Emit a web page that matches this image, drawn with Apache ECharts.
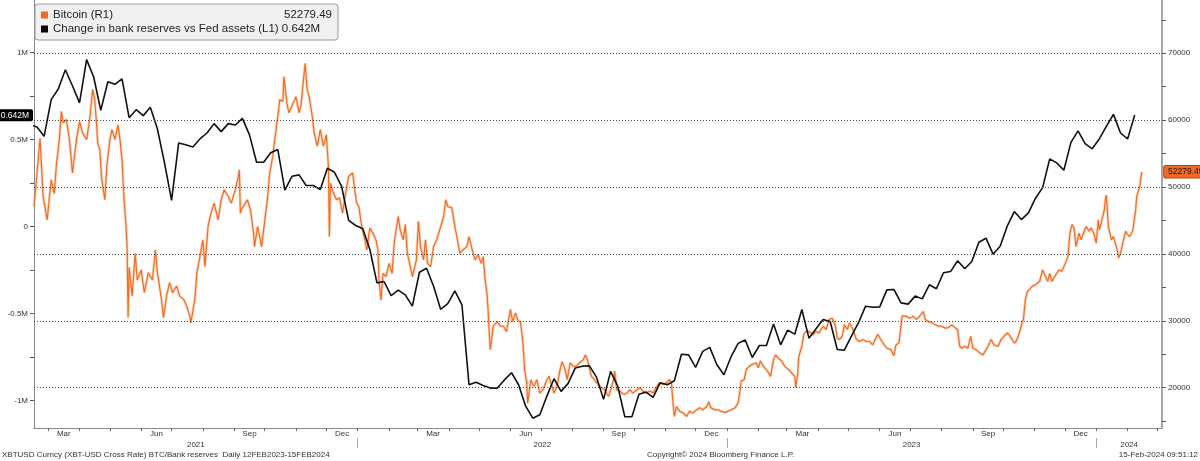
<!DOCTYPE html>
<html><head><meta charset="utf-8">
<script src="https://cdn.jsdelivr.net/npm/echarts@6/dist/echarts.min.js"></script>
<style>html,body{margin:0;padding:0;background:#fff}#c{width:1200px;height:461px}</style>
</head><body><div id="c"></div>
<script>
// ---------- DATA ----------
const btcName = 'Bitcoin (R1)';
const resName = 'Change in bank reserves vs Fed assets (L1)';
const btcDates = [
'2021-02-15','2021-02-18','2021-02-21','2021-02-24','2021-02-28','2021-03-04','2021-03-07','2021-03-09','2021-03-12','2021-03-14',
'2021-03-16','2021-03-19','2021-03-22','2021-03-25','2021-03-29','2021-04-01','2021-04-04','2021-04-08','2021-04-11','2021-04-14',
'2021-04-16','2021-04-18','2021-04-19','2021-04-21','2021-04-23','2021-04-26','2021-04-28','2021-05-01','2021-05-03','2021-05-06',
'2021-05-09','2021-05-11','2021-05-13','2021-05-15','2021-05-17','2021-05-18','2021-05-19','2021-05-20','2021-05-23','2021-05-26',
'2021-05-28','2021-06-01','2021-06-04','2021-06-08','2021-06-12','2021-06-15','2021-06-17','2021-06-21','2021-06-23','2021-06-26',
'2021-06-29','2021-07-02','2021-07-06','2021-07-09','2021-07-13','2021-07-16','2021-07-19','2021-07-20','2021-07-24','2021-07-26',
'2021-07-29','2021-08-01','2021-08-03','2021-08-06','2021-08-09','2021-08-12','2021-08-16','2021-08-19','2021-08-22','2021-08-26',
'2021-08-29','2021-09-02','2021-09-05','2021-09-06','2021-09-07','2021-09-08','2021-09-14','2021-09-17','2021-09-20','2021-09-21',
'2021-09-24','2021-09-28','2021-10-02','2021-10-04','2021-10-06','2021-10-09','2021-10-11','2021-10-14','2021-10-16','2021-10-19',
'2021-10-20','2021-10-23','2021-10-25','2021-10-29','2021-11-01','2021-11-04','2021-11-06','2021-11-08','2021-11-10','2021-11-12',
'2021-11-14','2021-11-17','2021-11-19','2021-11-22','2021-11-25','2021-11-28','2021-12-01','2021-12-03','2021-12-04','2021-12-05',
'2021-12-08','2021-12-11','2021-12-14','2021-12-17','2021-12-20','2021-12-23','2021-12-27','2021-12-29','2021-12-31','2022-01-02',
'2022-01-05','2022-01-08','2022-01-10','2022-01-13','2022-01-16','2022-01-19','2022-01-21','2022-01-22','2022-01-24','2022-01-26',
'2022-01-29','2022-02-01','2022-02-04','2022-02-06','2022-02-08','2022-02-10','2022-02-12','2022-02-15','2022-02-17','2022-02-19',
'2022-02-22','2022-02-24','2022-02-28','2022-03-02','2022-03-04','2022-03-07','2022-03-09','2022-03-11','2022-03-14','2022-03-17',
'2022-03-20','2022-03-24','2022-03-27','2022-03-29','2022-03-31','2022-04-04','2022-04-07','2022-04-09','2022-04-12','2022-04-15',
'2022-04-19','2022-04-21','2022-04-25','2022-04-27','2022-04-30','2022-05-03','2022-05-05','2022-05-07','2022-05-09','2022-05-10',
'2022-05-11','2022-05-12','2022-05-15','2022-05-19','2022-05-22','2022-05-25','2022-05-28','2022-06-01','2022-06-03','2022-06-06',
'2022-06-08','2022-06-11','2022-06-13','2022-06-15','2022-06-17','2022-06-18','2022-06-21','2022-06-24','2022-06-27','2022-06-30',
'2022-07-03','2022-07-07','2022-07-09','2022-07-12','2022-07-14','2022-07-17','2022-07-20','2022-07-22','2022-07-25','2022-07-27',
'2022-07-30','2022-08-02','2022-08-05','2022-08-08','2022-08-12','2022-08-14','2022-08-16','2022-08-20','2022-08-23','2022-08-28',
'2022-08-31','2022-09-02','2022-09-06','2022-09-08','2022-09-11','2022-09-12','2022-09-14','2022-09-17','2022-09-21','2022-09-24',
'2022-09-27','2022-09-30','2022-10-04','2022-10-07','2022-10-10','2022-10-13','2022-10-17','2022-10-20','2022-10-23','2022-10-26',
'2022-10-30','2022-11-02','2022-11-05','2022-11-07','2022-11-09','2022-11-10','2022-11-12','2022-11-15','2022-11-19','2022-11-22',
'2022-11-25','2022-11-28','2022-12-02','2022-12-05','2022-12-08','2022-12-12','2022-12-14','2022-12-16','2022-12-20','2022-12-23',
'2022-12-26','2022-12-30','2023-01-02','2023-01-05','2023-01-09','2023-01-12','2023-01-14','2023-01-15','2023-01-18','2023-01-20',
'2023-01-23','2023-01-26','2023-01-30','2023-02-01','2023-02-03','2023-02-06','2023-02-10','2023-02-13','2023-02-16','2023-02-18',
'2023-02-21','2023-02-24','2023-02-27','2023-03-03','2023-03-06','2023-03-09','2023-03-10','2023-03-12','2023-03-13','2023-03-16',
'2023-03-18','2023-03-20','2023-03-23','2023-03-27','2023-03-30','2023-04-02','2023-04-06','2023-04-09','2023-04-12','2023-04-15',
'2023-04-18','2023-04-20','2023-04-22','2023-04-25','2023-04-27','2023-04-30','2023-05-02','2023-05-05','2023-05-09','2023-05-12',
'2023-05-15','2023-05-19','2023-05-22','2023-05-25','2023-05-30','2023-06-02','2023-06-05','2023-06-08','2023-06-12','2023-06-15',
'2023-06-17','2023-06-20','2023-06-22','2023-06-23','2023-06-27','2023-07-01','2023-07-04','2023-07-07','2023-07-10','2023-07-14',
'2023-07-16','2023-07-19','2023-07-23','2023-07-26','2023-07-29','2023-08-01','2023-08-05','2023-08-08','2023-08-11','2023-08-15',
'2023-08-17','2023-08-19','2023-08-21','2023-08-24','2023-08-27','2023-08-30','2023-09-01','2023-09-04','2023-09-08','2023-09-11',
'2023-09-16','2023-09-19','2023-09-22','2023-09-26','2023-09-29','2023-10-02','2023-10-05','2023-10-07','2023-10-11','2023-10-13',
'2023-10-16','2023-10-18','2023-10-20','2023-10-21','2023-10-23','2023-10-25','2023-10-27','2023-10-30','2023-11-02','2023-11-06',
'2023-11-09','2023-11-11','2023-11-14','2023-11-16','2023-11-18','2023-11-22','2023-11-25','2023-11-28','2023-12-01','2023-12-04',
'2023-12-06','2023-12-08','2023-12-10','2023-12-12','2023-12-15','2023-12-17','2023-12-20','2023-12-22','2023-12-25','2023-12-27',
'2023-12-30','2024-01-01','2024-01-03','2024-01-04','2024-01-05','2024-01-09','2024-01-10','2024-01-11','2024-01-13','2024-01-14',
'2024-01-16','2024-01-18','2024-01-20','2024-01-22','2024-01-23','2024-01-25','2024-01-28','2024-01-30','2024-02-01','2024-02-03',
'2024-02-06','2024-02-09','2024-02-10','2024-02-13','2024-02-15'
];
const btcValues = [
47100,52100,57300,48600,45100,51100,49000,53100,57100,61300,
59600,60100,57100,52100,57100,59800,58100,57100,60100,64600,
63100,59100,56600,55600,51100,48100,53100,57100,58600,57100,
59300,57100,54100,48100,44100,41100,30500,38000,33700,40100,
36100,37600,34200,37200,36100,40600,37200,33200,30500,33700,
35700,34200,35200,33700,33200,32200,30700,29700,33200,37200,
39600,42100,38100,44100,46100,47600,45100,48100,49600,48600,
47600,49600,51600,52600,46100,46600,48100,46600,43100,41100,
44100,41100,46100,48600,52100,54600,57100,60600,63100,62800,
66500,62500,61100,62500,63500,61100,62300,65500,68500,64600,
63500,60600,58100,56100,58600,56100,57800,53100,42600,50600,
49100,48100,48400,46100,49100,51600,52100,49600,47600,47100,
44100,42100,40600,43900,43100,42100,40600,36100,33100,37100,
36600,38600,37100,41600,43600,45600,43600,42100,44400,40100,
38100,36600,39100,44900,41100,39100,42100,38600,38100,41100,
42100,44100,45600,48100,47100,46900,44100,42600,40100,40600,
41100,42600,40100,39100,39900,38600,39600,36100,33700,31200,
28200,25700,29200,29900,29200,29200,28400,31700,29900,31200,
30200,29700,27200,22700,20700,17700,21200,20200,21200,19200,
19700,21200,21700,20200,19200,20200,22700,23900,22700,21200,
23700,23200,23200,23700,24200,24900,24200,21700,21200,20200,
19900,19700,18700,19700,21200,22500,19700,19500,19000,19200,
19700,19200,19700,20000,19500,19200,19500,19200,20000,20700,
20500,20700,21200,20800,17200,15700,17200,16500,16200,15700,
16500,16200,16700,17000,16700,17200,17900,17000,16700,16700,
16500,16300,16500,16700,17000,17700,19700,21000,21200,22700,
23200,23500,23700,23000,24000,23200,22500,21700,24200,24900,
24400,24000,23200,22700,22200,21700,20000,22200,24700,26200,
28000,28400,28400,27900,28400,28200,29200,28700,30200,30400,
29400,27400,27200,27700,29400,28700,29700,28900,27200,26900,
27200,26900,26900,26400,28000,27200,26500,25900,25700,24800,
26400,26700,29200,30700,30700,30400,30700,30200,30600,31400,
30200,29900,29700,29400,29200,29200,28900,29000,29400,28900,
28700,26200,25900,26200,25900,27700,25900,25700,25200,24900,
26200,27200,26400,26200,27200,27700,28200,27900,26900,26700,
27700,28700,29900,30200,33200,34400,34700,35200,35400,35900,
37600,36900,35900,37100,35900,36900,37600,37400,38400,39600,
43100,44400,43900,41100,43100,42100,43400,44100,43400,43900,
42900,41600,45100,43600,44100,46600,48100,48800,44100,43400,
42100,42600,41600,40400,39400,40100,42100,43400,42900,42600,
43400,46600,48600,50100,52279.49
];
// weekly (Thursdays) starting 2021-02-11, values in millions USD
const reservesStart = [2021, 1, 11];
const reservesValues = [
0.585,0.573,0.519,0.730,0.791,0.902,0.810,0.711,0.960,0.860,0.668,
0.833,0.818,0.849,0.626,0.672,0.638,0.686,0.561,0.366,0.151,
0.481,0.470,0.458,0.504,0.538,0.592,0.546,0.592,0.584,0.622,
0.527,0.370,0.370,0.424,0.443,0.209,0.289,0.297,0.236,0.236,
0.213,0.335,0.312,0.232,0.036,0.006,-0.013,-0.132,-0.324,-0.316,
-0.397,-0.366,-0.393,-0.458,-0.263,-0.240,-0.343,-0.477,-0.443,-0.370,
-0.450,-0.910,-0.895,-0.914,-0.929,-0.929,-0.882,-0.841,-0.910,-1.033,
-1.102,-1.082,-0.975,-0.875,-0.948,-0.902,-0.814,-0.803,-0.801,-0.866,
-0.994,-0.833,-0.918,-1.094,-1.094,-0.964,-0.952,-0.983,-0.898,-0.910,
-0.887,-0.734,-0.738,-0.810,-0.718,-0.695,-0.795,-0.852,-0.749,-0.672,
-0.653,-0.753,-0.684,-0.684,-0.561,-0.680,-0.596,-0.619,-0.477,-0.642,
-0.588,-0.534,-0.546,-0.707,-0.711,-0.630,-0.553,-0.458,-0.464,-0.462,
-0.364,-0.362,-0.439,-0.446,-0.400,-0.416,-0.335,-0.358,-0.266,-0.259,
-0.197,-0.243,-0.201,-0.090,-0.067,-0.159,-0.113,0.002,0.086,0.040,
0.079,0.163,0.224,0.389,0.366,0.324,0.484,0.550,0.477,0.447,
0.504,0.576,0.645,0.538,0.504,0.642
];
const leftTickLabels = [-1, -0.5, 0, 0.5, 1];
const leftMinorTicks = [-1, -0.75, -0.5, -0.25, 0, 0.25, 0.5, 0.75, 1];
const rightTickLabels = [20000, 30000, 40000, 50000, 60000, 70000];
const rightMinorTicks = [15000, 20000, 25000, 30000, 35000, 40000, 45000, 50000, 55000, 60000, 65000, 70000, 75000];
const monthNames = ['Jan','Feb','Mar','Apr','May','Jun','Jul','Aug','Sep','Oct','Nov','Dec'];
const labelMonths = [2, 5, 8, 11];
const xMin = '2021-02-15', xMax = '2024-03-06';
const footerLeft = 'XBTUSD Curncy (XBT-USD Cross Rate) BTC/Bank reserves  Daily 12FEB2023-15FEB2024';
const footerMid = 'Copyright\u00A9 2024 Bloomberg Finance L.P.';
const footerRight = '15-Feb-2024 09:51:12';

// ---------- BUILD ----------
const FONT = '"Liberation Sans", Arial, sans-serif';
const ts = s => { const p = s.split('-').map(Number); return new Date(p[0], p[1]-1, p[2]).getTime(); };
const btcData = btcDates.map((d, i) => [ts(d), btcValues[i]]);
const resData = reservesValues.map((v, i) => [new Date(reservesStart[0], reservesStart[1], reservesStart[2] + 7*i).getTime(), v]);
const xMinT = ts(xMin), xMaxT = ts(xMax);
const monthTicks = [], monthLabelVals = [];
for (let y = 2021; y <= 2024; y++) for (let m = 0; m < 12; m++) {
  const t = new Date(y, m, 1).getTime();
  if (t > xMinT && t < xMaxT) monthTicks.push(t);
  if (labelMonths.includes(m)) {
    const c = (t + new Date(y, m+1, 1).getTime()) / 2;
    if (c > xMinT && c < xMaxT) monthLabelVals.push(c);
  }
}
const yearTicks = [], yearLabelVals = [];
for (let y = 2021; y <= 2024; y++) {
  const j = new Date(y, 0, 1).getTime(), j2 = new Date(y+1, 0, 1).getTime();
  if (j > xMinT && j < xMaxT) yearTicks.push(j);
  const s = Math.max(j, xMinT), e = Math.min(j2, xMaxT);
  if (e > s) yearLabelVals.push((s + e) / 2);
}
const lastBtc = btcValues[btcValues.length - 1];
const lastRes = reservesValues[reservesValues.length - 1];
const ORANGE = '#f26a21';
const lbl = { fontSize: 8, color: '#333', fontFamily: FONT };
const CLEAR = 'rgba(0,0,0,0)';

const chart = echarts.init(document.getElementById('c'));
chart.setOption({
  animation: false,
  backgroundColor: '#fff',
  textStyle: { fontFamily: FONT },
  title: [
    { text: footerLeft, left: 2, top: 451, padding: 0, textStyle: { fontSize: 8, fontWeight: 'normal', color: '#333', fontFamily: FONT } },
    { text: footerMid, left: 647, top: 451, padding: 0, textStyle: { fontSize: 8, fontWeight: 'normal', color: '#333', fontFamily: FONT } },
    { text: footerRight, right: 2, top: 451, padding: 0, textStyle: { fontSize: 8, fontWeight: 'normal', color: '#333', fontFamily: FONT } }
  ],
  legend: {
    data: [btcName, resName], selectedMode: false,
    left: 35, top: 4, orient: 'vertical',
    backgroundColor: '#f0f0f0', borderColor: '#9a9a9a', borderWidth: 1, borderRadius: 3,
    padding: [5, 6, 5, 6], itemGap: 2, itemWidth: 7, itemHeight: 7, icon: 'rect',
    textStyle: { fontFamily: FONT, fontSize: 11.5, color: '#222',
      rich: { a: { width: 222, fontSize: 11.5, fontFamily: FONT, color: '#222' },
              b: { width: 57, align: 'right', fontSize: 11.5, fontFamily: FONT, color: '#222' } } },
    formatter: n => n === btcName ? '{a|' + n + '}{b|' + lastBtc + '}' : n + ' ' + lastRes + 'M'
  },
  grid: { left: 34, right: 38, top: 0, bottom: 33, containLabel: false },
  xAxis: [
    { type: 'value', min: xMinT, max: xMaxT, position: 'bottom', scale: true,
      axisLine: { show: true, onZero: false, lineStyle: { color: '#888', width: 1 } },
      axisTick: { show: true, customValues: monthTicks, length: 3, lineStyle: { color: '#666' } },
      axisLabel: Object.assign({ customValues: monthLabelVals, margin: 2,
        formatter: v => monthNames[new Date(v).getMonth()] }, lbl),
      splitLine: { show: false } },
    { type: 'value', min: xMinT, max: xMaxT, position: 'bottom', offset: 10, scale: true,
      axisLine: { show: false, onZero: false },
      axisTick: { show: true, customValues: yearTicks, length: 10, lineStyle: { color: '#aaa' } },
      axisLabel: Object.assign({ customValues: yearLabelVals, margin: 3,
        formatter: v => String(new Date(v).getFullYear()) }, lbl),
      splitLine: { show: false } }
  ],
  yAxis: [
    { type: 'value', position: 'left', min: -1.1586, max: 1.3029, scale: true,
      axisLine: { show: true, onZero: false, lineStyle: { color: '#888', width: 1 } },
      axisTick: { show: true, customValues: leftMinorTicks, length: 4, lineStyle: { color: '#555' } },
      axisLabel: Object.assign({ customValues: leftTickLabels, margin: 6,
        formatter: v => v === 0 ? '0' : (Math.round(v * 10) / 10) + 'M' }, lbl),
      splitLine: { show: false } },
    { type: 'value', position: 'right', min: 13980, max: 77962, scale: true,
      axisLine: { show: true, onZero: false, lineStyle: { color: '#888', width: 1.5 } },
      axisTick: { show: true, customValues: rightMinorTicks, length: 4, lineStyle: { color: '#555' } },
      axisLabel: Object.assign({ customValues: rightTickLabels, margin: 6, formatter: v => String(v) }, lbl),
      splitLine: { show: false } }
  ],
  series: [
    { name: 'grid', type: 'line', yAxisIndex: 1, data: btcData, symbol: 'none', silent: true, z: 1,
      lineStyle: { opacity: 0 }, itemStyle: { opacity: 0 },
      markLine: { silent: true, symbol: 'none', label: { show: false },
        lineStyle: { type: [1, 2], color: '#444', width: 1 },
        data: rightTickLabels.map(v => ({ yAxis: v })) } },
    { name: 'btcBand', type: 'line', yAxisIndex: 1, data: btcData, symbol: 'none', showSymbol: false, silent: true, z: 2,
      lineStyle: { color: '#f7a673', width: 2.6, opacity: 0.55 } },
    { name: btcName, type: 'line', yAxisIndex: 1, data: btcData, symbol: 'none', showSymbol: false, z: 3,
      color: ORANGE, lineStyle: { color: ORANGE, width: 1.1 },
      markLine: { silent: true, symbol: 'none', lineStyle: { color: CLEAR, width: 1 },
        data: [{ yAxis: lastBtc }],
        label: { show: true, position: 'end', distance: 2, formatter: String(lastBtc),
          backgroundColor: ORANGE, borderColor: '#9a3a08', borderWidth: 0.8, color: '#1a1a1a',
          fontSize: 8.5, fontFamily: FONT, padding: [2, 3, 1, 4], borderRadius: 2 } } },
    { name: resName, type: 'line', yAxisIndex: 0, data: resData, symbol: 'none', showSymbol: false, z: 4,
      color: '#000', lineStyle: { color: '#111', width: 1.6 },
      markLine: { silent: true, symbol: 'none', lineStyle: { color: CLEAR, width: 1 },
        data: [{ yAxis: lastRes }],
        label: { show: true, position: 'start', distance: 1, formatter: lastRes + 'M',
          backgroundColor: '#000', color: '#fff', fontSize: 8.5, fontFamily: FONT, padding: [2, 4, 1, 4], borderRadius: 2 } } }
  ]
});
</script>
</body></html>
